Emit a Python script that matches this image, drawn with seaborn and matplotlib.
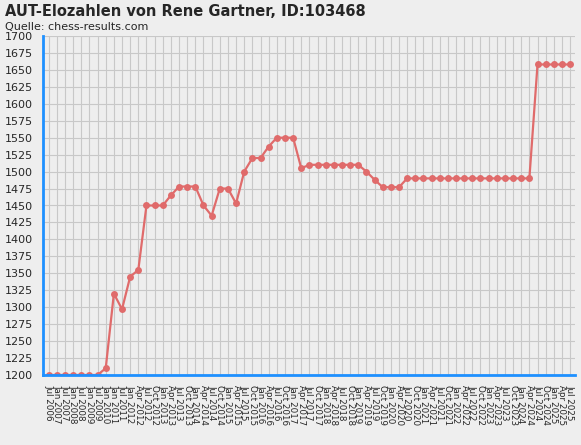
import matplotlib
matplotlib.use("Agg")
import matplotlib.pyplot as plt
import seaborn as sns
import pandas as pd

labels = ["Jul 2006","Jan 2007","Jul 2007","Jan 2008","Jul 2008","Jan 2009","Jul 2009","Jan 2010","Jan 2011","Jul 2011","Jan 2012"]
for y in range(2012, 2026):
    for m in ["Jan","Apr","Jul","Oct"]:
        if y == 2012 and m == "Jan":
            continue
        if y == 2025 and m == "Oct":
            continue
        labels.append(f"{m} {y}")
values = [1200,1200,1200,1200,1200,1200,1200,1210,1320,1297,1345,1355,1450,1450,1450,1465,1478,1478,1478,1450,
          1435,1475,1475,1453,1500,1520,1520,1537,1550,1550,1550,1505,1510,1510,1510,1510,1510,1510,1510,1500,
          1488,1477,1477,1477,1490,1490,1490,1490,1490,1490,1490,1490,1490,1490,1490,1490,1490,1490,1490,1490,
          1658,1658,1658,1658,1658]

df = pd.DataFrame({"i": range(len(values)), "elo": values})
sns.set_style("whitegrid")
plt.rcParams['font.family'] = ['DejaVu Sans']
fig = plt.figure(figsize=(5.81, 4.45), dpi=100, facecolor="#eeeeee")
ax = fig.add_axes([43/581, 1-375/445, 532/581, 339/445])
ax.set_facecolor("#eeeeee")
sns.lineplot(data=df, x="i", y="elo", ax=ax, color="#e06b6b", marker="o", markersize=5,
             markeredgewidth=0, linewidth=1.6)
ax.set_xlim(-0.7, len(values) - 0.4)
ax.set_ylim(1200, 1700)
ax.set_yticks(range(1200, 1701, 25))
ax.set_yticklabels([str(v) for v in range(1200, 1701, 25)], fontsize=8)
ax.set_xticks(range(len(values)))
ax.set_xticklabels(labels, rotation=-90, fontsize=6.3, va="top", ha="center")
ax.grid(True, color="#c8c8c8", linewidth=0.8)
ax.set_xlabel(""); ax.set_ylabel("")
for s in ["top", "right"]:
    ax.spines[s].set_visible(False)
for s in ["left", "bottom"]:
    ax.spines[s].set_color("#1e90ff"); ax.spines[s].set_linewidth(2)
ax.tick_params(axis="both", color="#1e90ff", length=5, width=2, pad=2)
fig.text(5/581, 1-12/445, "AUT-Elozahlen von Rene Gartner, ID:103468", fontsize=10.5, fontweight="bold", va="center")
fig.text(5/581, 1-27/445, "Quelle: chess-results.com", fontsize=8, va="center")
fig.savefig("out.png", dpi=100, facecolor="#eeeeee")
